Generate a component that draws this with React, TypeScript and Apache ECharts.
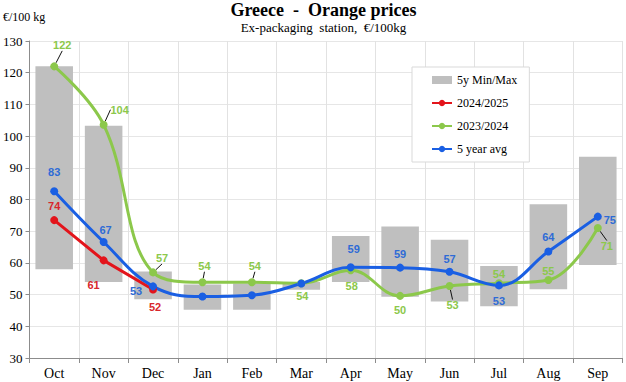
import React, { useEffect, useRef } from "react";
import * as echarts from "echarts";

const months = ["Oct", "Nov", "Dec", "Jan", "Feb", "Mar", "Apr", "May", "Jun", "Jul", "Aug", "Sep"];
const minVals = [58, 54, 48.5, 45.2, 45.2, 51.5, 54, 49.3, 47.8, 46.3, 51.7, 59.3];
const maxVals = [122, 103.3, 57.3, 53.2, 53.5, 54, 68.5, 71.5, 67.3, 59, 78.5, 93.5];
const s2425 = [73.5, 60.8, 51.6, null, null, null, null, null, null, null, null, null];
const s2324 = [122, 103.6, 57, 53.9, 53.9, 53.6, 57.7, 49.6, 52.7, 53.6, 54.6, 71];
const avg5 = [82.6, 66.6, 52.6, 49.4, 49.8, 53.5, 58.6, 58.5, 57.2, 52.9, 63.6, 74.6];

// label placement (pixel offsets from the point), null = no label
const redOff: (number[] | null)[] = [[0, -14], [-10, 25], [2, 17]];
const greenOff: (number[] | null)[] = [[8, -21], [16, -15], [9, -14], [2, -16], [3, -16], [1, 13], [1, 16], [0, 14], [3, 19], [0, -9], [0, -9], [9, 18]];
const greenLeader = [1, 1, 1, 1, 1, 0, 0, 0, 1, 0, 0, 1];
const blueOff: (number[] | null)[] = [[0, -19], [2, -12], [-17, 5], null, null, null, [3, -18], [0, -14], [0, -13], [0, 16], [0, -14], [12, 3]];

const RED = "#e3141b";
const GREEN = "#8cc84b";
const BLUE = "#1a5fe3";
const GRAY = "#bfbfbf";

function buildData(vals: (number | null)[], offs: (number[] | null)[], color: string, leaders?: number[]) {
  return vals.map((v, i) => {
    const off = offs[i];
    return {
      value: v,
      label: {
        show: !!off && v != null,
        position: "inside",
        color,
        fontFamily: "Liberation Sans",
        fontWeight: "bold",
        fontSize: 11,
        formatter: (p: any) => String(Math.round(p.value)),
      },
      labelLine: { show: !!(leaders && leaders[i]), lineStyle: { color: "#111", width: 1 } },
    };
  });
}

function layoutFor(offs: (number[] | null)[]) {
  return (p: any) => {
    const o = offs[p.dataIndex];
    if (!o) return {};
    return { dx: o[0], dy: o[1] };
  };
}

export default function App() {
  const ref = useRef<HTMLDivElement>(null);
  useEffect(() => {
    if (!ref.current) return;
    const chart = echarts.init(ref.current, null, { renderer: "svg" });
    const lineCommon = {
      type: "line",
      symbol: "circle",
      symbolSize: 8,
      z: 3,
    };
    chart.setOption({
      animation: false,
      backgroundColor: "#fff",
      title: {
        text: "Greece  -  Orange prices",
        subtext: "Ex-packaging  station,  €/100kg",
        left: 323.5,
        textAlign: "center",
        top: 1,
        padding: 0,
        itemGap: 2,
        textStyle: { fontFamily: "Liberation Serif", fontWeight: "bold", fontSize: 18, color: "#000" },
        subtextStyle: { fontFamily: "Liberation Serif", fontSize: 13, color: "#000" },
      },
      graphic: [
        {
          type: "text",
          left: 3,
          top: 11,
          style: { text: "€/100 kg", fontFamily: "Liberation Serif", fontSize: 12, fill: "#000" },
        },
      ],
      legend: {
        orient: "vertical",
        left: 412,
        top: 67,
        padding: [7, 12, 7, 19],
        itemGap: 11,
        itemWidth: 20,
        itemHeight: 8,
        backgroundColor: "#fff",
        borderColor: "#d9d9d9",
        borderWidth: 1,
        textStyle: { fontFamily: "Liberation Serif", fontSize: 12, color: "#000" },
        data: [
          { name: "5y Min/Max", icon: "rect", itemStyle: { color: GRAY } },
          "2024/2025",
          "2023/2024",
          "5 year avg",
        ],
      },
      grid: { left: 24.5, right: 3.5, top: 41, bottom: 24 },
      xAxis: {
        type: "category",
        data: months,
        boundaryGap: true,
        axisLine: { lineStyle: { color: "#8c8c8c", width: 1 } },
        axisTick: { show: true, length: 5, lineStyle: { color: "#8c8c8c" } },
        axisLabel: { fontFamily: "Liberation Serif", fontSize: 14, color: "#000", margin: 8 },
        splitLine: { show: true, lineStyle: { color: "#e2e2e2" } },
      },
      yAxis: {
        type: "value",
        min: 30,
        max: 130,
        interval: 10,
        axisLine: { show: true, lineStyle: { color: "#8c8c8c" } },
        axisTick: { show: true, length: 4, lineStyle: { color: "#8c8c8c" } },
        axisLabel: { fontFamily: "Liberation Serif", fontSize: 13, color: "#000", margin: 7 },
        splitLine: { show: true, lineStyle: { color: "#e6e6e6" } },
      },
      series: [
        {
          name: "base",
          type: "bar",
          stack: "mm",
          barWidth: "76%",
          itemStyle: { color: "transparent" },
          data: minVals,
          z: 1,
          silent: true,
        },
        {
          name: "5y Min/Max",
          type: "bar",
          stack: "mm",
          barWidth: "76%",
          itemStyle: { color: GRAY },
          data: maxVals.map((m, i) => +(m - minVals[i]).toFixed(2)),
          z: 1,
        },
        {
          ...lineCommon,
          name: "2023/2024",
          smooth: 0.4,
          lineStyle: { color: GREEN, width: 3 },
          itemStyle: { color: GREEN },
          data: buildData(s2324, greenOff, GREEN, greenLeader),
          labelLayout: layoutFor(greenOff),
          labelLine: { show: false, lineStyle: { color: "#111", width: 1 } },
        },
        {
          ...lineCommon,
          name: "2024/2025",
          smooth: false,
          lineStyle: { color: RED, width: 3 },
          itemStyle: { color: RED },
          data: buildData(s2425, redOff, "#d8262c"),
          labelLayout: layoutFor(redOff),
        },
        {
          ...lineCommon,
          name: "5 year avg",
          smooth: 0.4,
          lineStyle: { color: BLUE, width: 3 },
          itemStyle: { color: BLUE },
          data: buildData(avg5, blueOff, "#2e6bd6"),
          labelLayout: layoutFor(blueOff),
        },
      ],
    });
    return () => chart.dispose();
  }, []);
  return <div ref={ref} style={{ width: 626, height: 382, position: "absolute", left: 0, top: 0 }} />;
}
